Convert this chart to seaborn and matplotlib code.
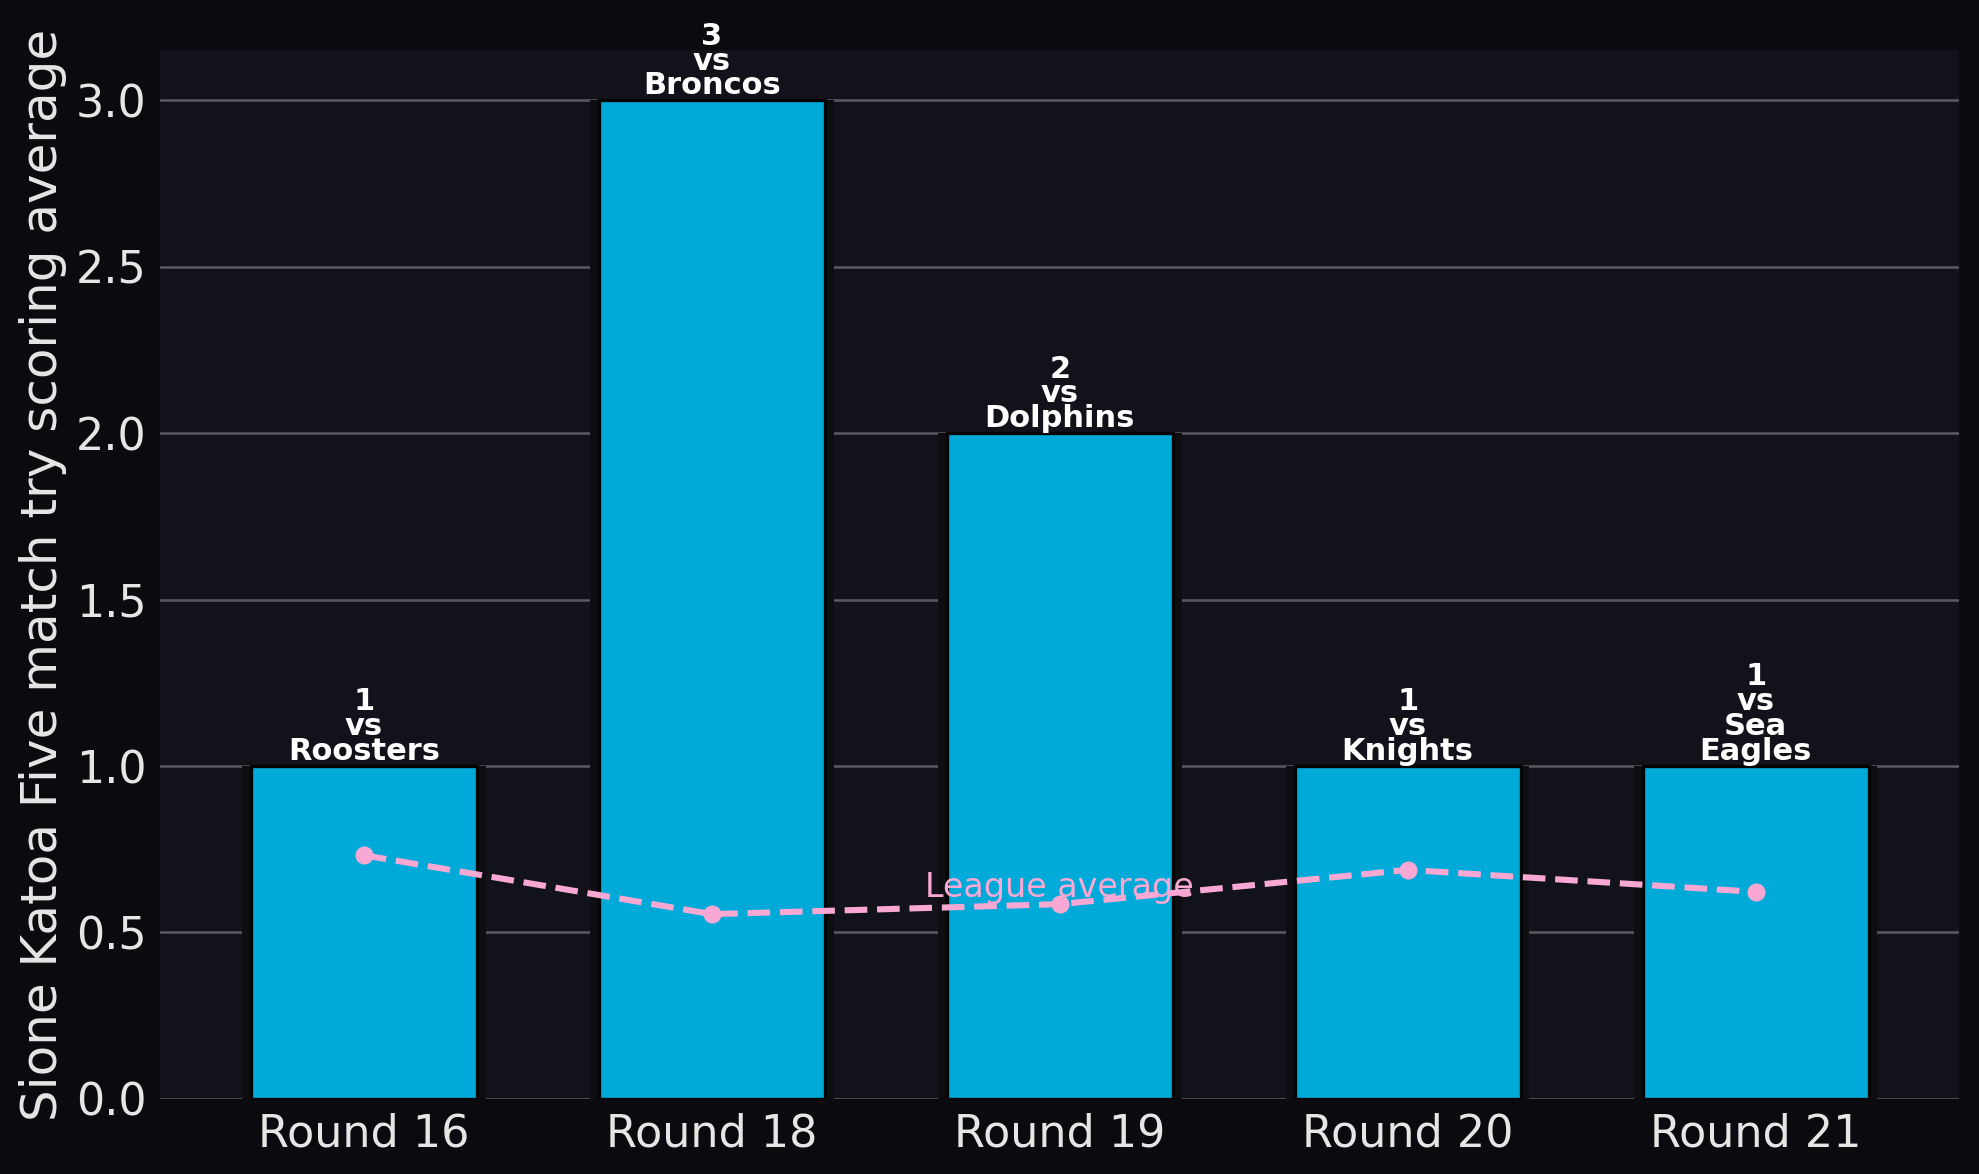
import matplotlib
matplotlib.use("Agg")
import matplotlib.pyplot as plt
import seaborn as sns
import pandas as pd

# data
rounds = ["Round 16", "Round 18", "Round 19", "Round 20", "Round 21"]
tries = [1, 3, 2, 1, 1]
opponents = ["Roosters", "Broncos", "Dolphins", "Knights", "Sea\nEagles"]
league_avg = [0.732, 0.555, 0.585, 0.688, 0.622]

FIG_BG = "#0b0b0f"
AX_BG = "#12131a"
BAR = "#00aad8"
PINK = "#f9a8d4"
TEXT = "#e6e6e6"

sns.set_theme(style="darkgrid")
plt.rcParams["font.family"] = ["DejaVu Sans"]

df = pd.DataFrame({"round": rounds, "tries": tries, "league": league_avg})

fig = plt.figure(figsize=(9.895, 5.87), dpi=200, facecolor=FIG_BG)
ax = fig.add_axes([0.081, 0.064, 0.909, 0.893])
ax.set_facecolor(AX_BG)

# soft shadow behind each bar
sns.barplot(data=df, x="round", y="tries", color="#0d0d12", width=0.70,
            saturation=1, edgecolor="none", linewidth=0, ax=ax, zorder=2)
sns.barplot(data=df, x="round", y="tries", color=BAR, width=0.65,
            saturation=1, edgecolor="#050505", linewidth=1.2, ax=ax, zorder=3)

sns.lineplot(data=df, x="round", y="league", color=PINK, linestyle="--",
             linewidth=2.2, marker="o", markersize=6.5, markeredgewidth=0,
             ax=ax, zorder=5, sort=False)

for i, (t, opp) in enumerate(zip(tries, opponents)):
    ax.text(i, t, f"{t}\nvs\n{opp}", ha="center", va="bottom", color="white",
            fontsize=11, fontweight="bold", linespacing=0.82, zorder=6)

ax.text(2, sum(league_avg) / len(league_avg), "League average", ha="center",
        va="center", color=PINK, fontsize=12, zorder=6)

ax.set_xlim(-0.585, 4.585)
ax.set_ylim(0, 3.15)
ax.set_yticks([0, 0.5, 1.0, 1.5, 2.0, 2.5, 3.0])
ax.set_xlabel("")
ax.set_ylabel("Sione Katoa Five match try scoring average", fontsize=18,
              color=TEXT, labelpad=3)
ax.grid(axis="y", color="#5a5a5e", linewidth=0.9, zorder=0)
ax.grid(axis="x", visible=False)
ax.set_axisbelow(True)
ax.tick_params(axis="both", length=0, labelsize=16, labelcolor=TEXT, pad=5)
for s in ax.spines.values():
    s.set_visible(False)

fig.savefig("out.png", dpi=200, facecolor=FIG_BG)
